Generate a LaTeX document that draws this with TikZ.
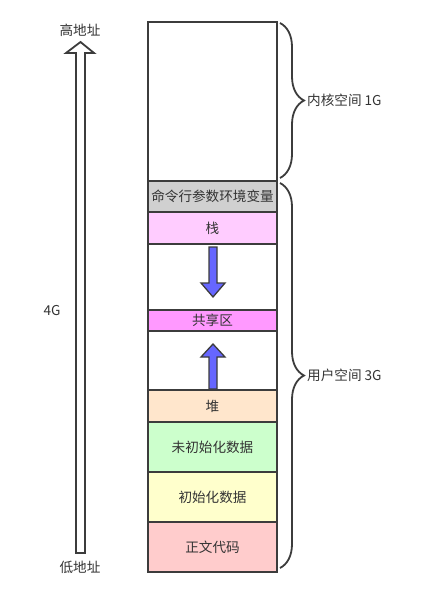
\documentclass[tikz,border=0pt]{standalone}
\usepackage{fontspec}
\setmainfont{Noto Sans CJK SC}
\usetikzlibrary{decorations.pathreplacing}
\definecolor{edge}{HTML}{3C3C3C}
\definecolor{txt}{HTML}{333333}
\definecolor{cgray}{HTML}{D0D0D0}
\definecolor{cstack}{HTML}{FFCCFF}
\definecolor{cshare}{HTML}{FF99FF}
\definecolor{cheap}{HTML}{FFE6CC}
\definecolor{cbss}{HTML}{CCFFCC}
\definecolor{cdata}{HTML}{FFFFCC}
\definecolor{ctext}{HTML}{FFCCCC}
\definecolor{carrow}{HTML}{6666FF}
\tikzset{
  seg/.style={draw=edge, line width=1.8pt, minimum width=129pt, anchor=north west,
    inner sep=0pt, outer sep=0pt, text=txt, font=\fontsize{13.6pt}{15pt}\selectfont},
  lbl/.style={text=txt, inner sep=0pt, font=\fontsize{13.6pt}{15pt}\selectfont},
  bluearrow/.style={fill=carrow, draw=edge, line width=1.3pt, line join=miter},
  bracestyle/.style={draw=edge, line width=1.8pt, decorate,
    decoration={brace, amplitude=24pt, raise=0pt}},
}
\begin{document}
\begin{tikzpicture}[x=1pt,y=-1pt]
\useasboundingbox (0,0) rectangle (421,602);
% memory column
\node[seg, minimum height=159pt] (kernel) at (148,22) {};
\node[seg, minimum height=31pt, fill=cgray] (env) at (148,181) {命令行参数环境变量};
\node[seg, minimum height=32pt, fill=cstack] (stack) at (148,212) {栈};
\node[seg, minimum height=66pt] (gap1) at (148,244) {};
\node[seg, minimum height=21pt, fill=cshare] (share) at (148,310) {共享区};
\node[seg, minimum height=59pt] (gap2) at (148,331) {};
\node[seg, minimum height=32pt, fill=cheap] (heap) at (148,390) {堆};
\node[seg, minimum height=50pt, fill=cbss] (bss) at (148,422) {未初始化数据};
\node[seg, minimum height=50pt, fill=cdata] (data) at (148,472) {初始化数据};
\node[seg, minimum height=50pt, fill=ctext] (code) at (148,522) {正文代码};
% growth arrows
\draw[bluearrow] (209,247) -- (217,247) -- (217,283) -- (225,283) -- (213,297)
  -- (201,283) -- (209,283) -- cycle;
\draw[bluearrow] (213,344) -- (225,357) -- (217,357) -- (217,389) -- (209,389)
  -- (209,357) -- (201,357) -- cycle;
% braces
\coordinate (kb1) at (280,23);
\coordinate (kb2) at (280,178);
\coordinate (ub1) at (280,183);
\coordinate (ub2) at (280,568);
\draw[bracestyle] (kb1) -- (kb2);
\draw[bracestyle] (ub1) -- (ub2);
\node[lbl, anchor=west] (klabel) at (307,100.5) {内核空间 1G};
\node[lbl, anchor=west] (ulabel) at (307,375.5) {用户空间 3G};
% address arrow
\draw[draw=edge, fill=white, line width=1.8pt, line join=miter]
  (80.5,42) -- (94,53) -- (85,53) -- (85,553) -- (76,553) -- (76,53) -- (66,53) -- cycle;
\node[lbl] (high) at (80,30) {高地址};
\node[lbl] (low) at (80,567) {低地址};
\node[lbl] (size) at (52,311) {4G};
\end{tikzpicture}
\end{document}
